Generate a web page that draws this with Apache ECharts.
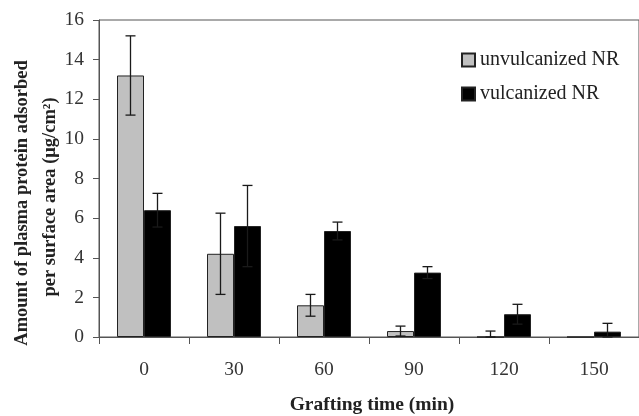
<!DOCTYPE html>
<html>
<head>
<meta charset="utf-8">
<script src="https://cdn.jsdelivr.net/npm/echarts@6/dist/echarts.min.js"></script>
<style>html,body{margin:0;padding:0;background:#fff;}#c{width:639px;height:416px;}</style>
</head>
<body>
<div id="c"></div>
<script>
var categories = ['0', '30', '60', '90', '120', '150'];
var unvulcanized = [13.2, 4.2, 1.6, 0.3, 0, 0];
var unvulcanizedErr = [2.0, 2.05, 0.55, 0.25, 0.3, 0];
var vulcanized = [6.4, 5.6, 5.35, 3.25, 1.15, 0.27];
var vulcanizedErr = [0.85, 2.05, 0.45, 0.3, 0.5, 0.42];
var yTicks = [0, 2, 4, 6, 8, 10, 12, 14, 16];

var serif = '"Liberation Serif","Times New Roman",serif';
var chart = echarts.init(document.getElementById('c'));

function errData(vals, errs) {
  return vals.map(function (v, i) { return [i, v, errs[i]]; });
}
function errRender(side) {
  return function (params, api) {
    var i = api.value(0), v = api.value(1), e = api.value(2);
    if (!e) return null;
    var band = api.size([1, 0])[0];
    var off = side * band * 0.15;
    var top = api.coord([i, v + e]);
    var bot = api.coord([i, Math.max(0, v - e)]);
    var x = top[0] + off;
    var cap = 5;
    var st = { stroke: '#1a1a1a', lineWidth: 1.3 };
    return {
      type: 'group',
      children: [
        { type: 'line', shape: { x1: x, y1: top[1], x2: x, y2: bot[1] }, style: st },
        { type: 'line', shape: { x1: x - cap, y1: top[1], x2: x + cap, y2: top[1] }, style: st },
        { type: 'line', shape: { x1: x - cap, y1: bot[1], x2: x + cap, y2: bot[1] }, style: st }
      ]
    };
  };
}

chart.setOption({
  animation: false,
  backgroundColor: '#fff',
  grid: { left: 99, top: 20, width: 544, height: 317, show: true, borderColor: '#555', borderWidth: 1, backgroundColor: 'transparent' },
  legend: {
    orient: 'vertical', left: 461, top: 50, padding: 0,
    itemWidth: 13, itemHeight: 13, itemGap: 14,
    icon: 'rect',
    data: ['unvulcanized NR', 'vulcanized NR'],
    textStyle: { fontFamily: serif, fontSize: 20, color: '#222', lineHeight: 18 }
  },
  xAxis: {
    type: 'category', data: categories,
    axisLine: { lineStyle: { color: '#555', width: 1 } },
    axisTick: { show: true, length: 7, lineStyle: { color: '#555' } },
    axisLabel: { fontFamily: serif, fontSize: 19.5, color: '#333', margin: 23 }
  },
  yAxis: {
    type: 'value', min: yTicks[0], max: yTicks[yTicks.length - 1], interval: 2,
    splitLine: { show: false },
    axisLine: { show: true, lineStyle: { color: '#555', width: 1 } },
    axisTick: { show: true, length: 6, lineStyle: { color: '#555' } },
    axisLabel: { fontFamily: serif, fontSize: 19.5, color: '#333', margin: 15 }
  },
  graphic: [
    { type: 'text', x: 22, y: 203, rotation: Math.PI / 2,
      style: { text: 'Amount of plasma protein adsorbed', fontFamily: serif, fontWeight: 'bold', fontSize: 18.5, fill: '#222', align: 'center', verticalAlign: 'middle' } },
    { type: 'text', x: 50, y: 197, rotation: Math.PI / 2,
      style: { text: 'per surface area (\u03bcg/cm\u00b2)', fontFamily: serif, fontWeight: 'bold', fontSize: 18.5, fill: '#222', align: 'center', verticalAlign: 'middle' } },
    { type: 'text', x: 372, y: 405,
      style: { text: 'Grafting time (min)', fontFamily: serif, fontWeight: 'bold', fontSize: 19.5, fill: '#222', align: 'center', verticalAlign: 'middle' } }
  ],
  series: [
    { name: 'unvulcanized NR', type: 'bar', data: unvulcanized, barGap: '0%', barCategoryGap: '40%',
      itemStyle: { color: '#c0c0c0', borderColor: '#222', borderWidth: 1 } },
    { name: 'vulcanized NR', type: 'bar', data: vulcanized, barGap: '0%', barCategoryGap: '40%',
      itemStyle: { color: '#000', borderColor: '#222', borderWidth: 1 } },
    { type: 'custom', renderItem: errRender(-1), data: errData(unvulcanized, unvulcanizedErr), z: 5, encode: { x: 0, y: 1 } },
    { type: 'custom', renderItem: errRender(1), data: errData(vulcanized, vulcanizedErr), z: 5, encode: { x: 0, y: 1 } }
  ]
});
</script>
</body>
</html>
